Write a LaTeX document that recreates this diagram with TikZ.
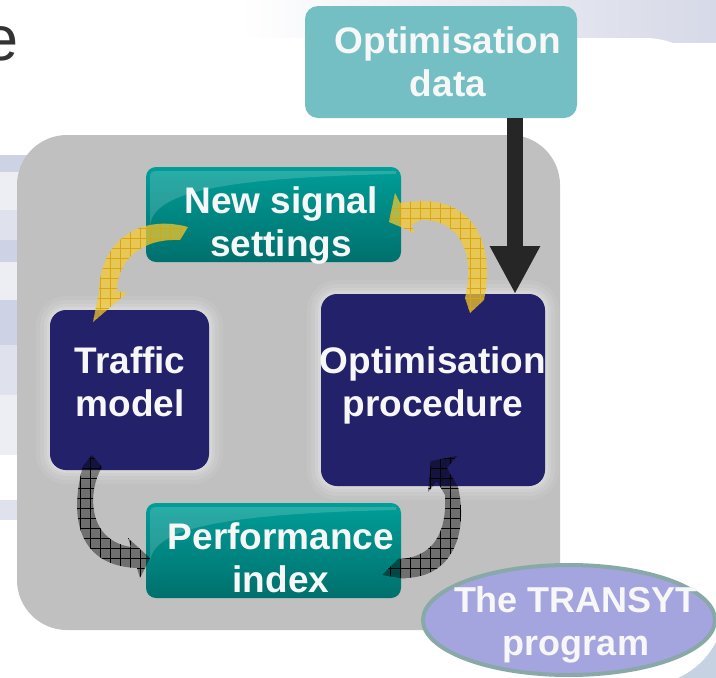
\documentclass[tikz,border=0pt]{standalone}
\usepackage{fontspec}
\setmainfont{Liberation Sans}
\usetikzlibrary{arrows.meta,patterns.meta,shapes.geometric}

\definecolor{panelgray}{HTML}{C0C0C0}
\definecolor{navy}{HTML}{23216A}
\definecolor{tealtop}{HTML}{009E98}
\definecolor{tealbot}{HTML}{00706D}
\definecolor{datafill}{HTML}{74BFC4}
\definecolor{ellfill}{HTML}{A4A4DE}
\definecolor{ellborder}{HTML}{88A9A7}
\definecolor{arrowblack}{HTML}{262626}
\definecolor{txtwhite}{HTML}{F7F7F7}
\definecolor{titlegray}{HTML}{333333}
\definecolor{arrowyellow}{HTML}{F7CB2E}
\definecolor{hatchyellow}{HTML}{D9A514}
\definecolor{bgblue}{HTML}{D6D9E7}
\definecolor{bandA}{HTML}{CDD2E4}
\definecolor{bandB}{HTML}{DFE2EC}
\definecolor{bandC}{HTML}{ECEEF4}
\definecolor{cornerblue}{HTML}{C6D2E2}

\begin{document}
\begin{tikzpicture}[x=1pt,y=-1pt,
  box/.style={rectangle, inner sep=0pt, outer sep=0pt},
  navybox/.style={box, fill=navy, rounded corners=16pt},
  tealbox/.style={box, top color=tealtop, bottom color=tealbot,
    rounded corners=10pt, minimum width=255pt, minimum height=95pt},
  lbl/.style={anchor=base, inner sep=0pt, text=txtwhite,
    font=\fontsize{37}{43}\selectfont\bfseries},
  yarrow/.style={fill=arrowyellow, fill opacity=.72,
    postaction={pattern={Hatch[distance=10pt,line width=.3pt]},
      pattern color=hatchyellow}},
  garrow/.style={fill=black, fill opacity=.42,
    postaction={pattern={Hatch[distance=10pt,line width=.3pt]},
      pattern color=black}},
  gloss/.style={fill=white, fill opacity=.16},
]
\useasboundingbox (0,0) rectangle (716,678);

% slide backdrop
\fill[white] (0,0) rectangle (716,678);
\shade[left color=white, right color=bgblue] (240,0) rectangle (716,42);
\fill[bandA] (0,155) rectangle (50,172);
\fill[bandC] (0,172) rectangle (50,210);
\fill[bandB] (0,210) rectangle (50,240);
\fill[bandA] (0,240) rectangle (50,262);
\fill[bandC] (0,262) rectangle (50,300);
\fill[bandA] (0,300) rectangle (50,345);
\fill[bandB] (0,345) rectangle (50,395);
\fill[bandC] (0,395) rectangle (50,455);
\fill[bandB] (0,500) rectangle (50,520);
\fill[cornerblue] (620,600) rectangle (716,678);

% white card
\fill[white] (50,300) [rounded corners=58pt] -- (50,38)
  [rounded corners=80pt] -- (725,38) -- (725,685) -- (50,685) -- cycle;

% partial title letter
\node[anchor=base east, inner sep=0pt, text=titlegray,
  font=\fontsize{63}{70}\selectfont] (etitle) at (19,60) {e};

% grey panel
\fill[panelgray, rounded corners=50pt] (17,135) rectangle (560,630);

% soft halo round the dark boxes
\foreach \p/\o in {14/.07, 10/.09, 6/.12, 3/.15}{
  \fill[white, opacity=\o, rounded corners=16pt+\p pt]
    (50-\p,310-\p) rectangle (209+\p,470+\p);
  \fill[white, opacity=\o, rounded corners=16pt+\p pt]
    (321-\p,294-\p) rectangle (545+\p,486+\p);
}

% boxes
\node[box, fill=datafill, rounded corners=13pt,
  minimum width=272pt, minimum height=112pt] (data) at (441,62) {};
\node[tealbox] (signal) at (273.5,214.5) {};
\node[tealbox] (perf) at (273.5,550.5) {};
\node[navybox, minimum width=159pt, minimum height=160pt] (traffic) at (129.5,390) {};
\node[navybox, minimum width=224pt, minimum height=192pt] (proc) at (433,390) {};

% gloss on the teal boxes
\fill[gloss] (150,228) .. controls (150,196) and (205,178) .. (396,174)
  -- (396,171) -- (156,171) .. controls (152,171) and (150,173) .. (150,177) -- cycle;
\fill[gloss] (150,564) .. controls (150,532) and (205,514) .. (396,510)
  -- (396,507) -- (156,507) .. controls (152,507) and (150,509) .. (150,513) -- cycle;

% programme ellipse
\node[ellipse, fill=ellfill, draw=ellborder, line width=4pt, inner sep=0pt,
  minimum width=292pt, minimum height=110pt] (transyt) at (569,620) {};

% data feed into the optimiser
\coordinate (ax) at (515,0);
\draw[line width=16pt, draw=arrowblack, -{Triangle[width=47pt,length=48pt]}]
  (data.south -| ax) -- (proc.north -| ax);

% cycle arrows
\path[yarrow] (188,227) .. controls (140,214) and (100,240) .. (99,292)
  -- (93,322) -- (127,293) -- (117,291)
  .. controls (117,262) and (140,238) .. (180,240) -- cycle;
\path[yarrow] (470,313) -- (484,300) .. controls (495,245) and (475,200) .. (420,201)
  -- (400,203) -- (395,193) -- (389,222) -- (415,233) -- (411,225) -- (420,220)
  .. controls (455,218) and (477,248) .. (465,298) -- cycle;
\path[garrow] (92,455) -- (102,467) .. controls (88,490) and (86,540) .. (131,547)
  -- (128,538) -- (150,558) -- (140,578) -- (137,568)
  .. controls (80,566) and (68,520) .. (83,466) -- cycle;
\path[garrow] (382,575) -- (398,559) .. controls (435,558) and (447,530) .. (445,495)
  -- (437,481) -- (428,492) -- (431,461) -- (457,456) -- (447,468)
  -- (458,487) .. controls (468,530) and (455,580) .. (400,578) -- cycle;

% labels
\node[lbl] (datatxt) at (448,53)
  {\begin{tabular}[t]{@{}c@{}}Optimisation\\data\end{tabular}};
\node[lbl] (signaltxt) at (281,213)
  {\begin{tabular}[t]{@{}c@{}}New signal\\settings\end{tabular}};
\node[lbl] (traffictxt) at (130,373)
  {\begin{tabular}[t]{@{}c@{}}Traffic\\model\end{tabular}};
\node[lbl] (proctxt) at (433,373)
  {\begin{tabular}[t]{@{}c@{}}Optimisation\\procedure\end{tabular}};
\node[lbl] (perftxt) at (281,549)
  {\begin{tabular}[t]{@{}c@{}}Performance\\index\end{tabular}};
\node[lbl, font=\fontsize{36}{43}\selectfont\bfseries] (transyttxt) at (576,612)
  {\begin{tabular}[t]{@{}c@{}}The TRANSYT\\program\end{tabular}};
\end{tikzpicture}
\end{document}
